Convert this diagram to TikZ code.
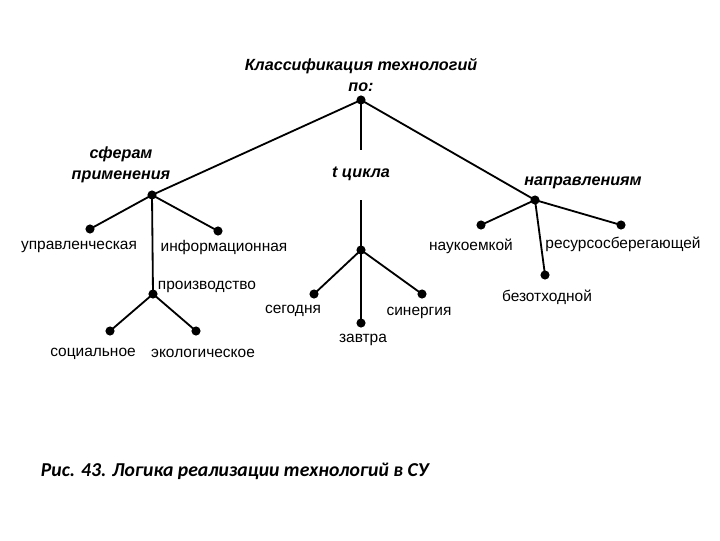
\documentclass[tikz,border=0pt]{standalone}
\usepackage{fontspec}
\setmainfont{Liberation Sans}
\newfontfamily\capfont{Carlito}
\usetikzlibrary{positioning}

\begin{document}
\begin{tikzpicture}[x=0.025cm,y=-0.025cm,line width=1.3pt,
  dot/.style={circle,fill,inner sep=0pt,minimum size=6.5pt},
  lbl/.style={font=\fontsize{11}{13}\selectfont,inner sep=0pt},
  head/.style={font=\fontsize{11.5}{15}\selectfont\bfseries\itshape,inner sep=0pt,align=center}]
\useasboundingbox (0,0) rectangle (720,540);
% title and root
\node[head] (title) at (361,75) {Классификация технологий\\по:};
\node[dot] (root) at (361,100) {};
% branches
\node[dot] (sfer) at (152,195) {};
\node[head] (sferlbl) at (121,165) {сферам\\применения};
\coordinate (ctop) at (361,150);
\node[head] (cikl) at (361,174) {t цикла};
\coordinate (cbot) at (361,200);
\node[dot] (cikldot) at (361,250) {};
\node[dot] (napr) at (535,200) {};
\node[head] (naprlbl) at (583,183) {направлениям};
\draw (root.center) -- (sfer.center);
\draw (root.center) -- (ctop);
\draw (root.center) -- (napr.center);
\draw (cbot) -- (cikldot.center);
% sphere of use
\node[dot] (upr) at (90,229) {};
\node[lbl] (uprlbl) at (79,247) {управленческая};
\node[dot] (inf) at (218,231) {};
\node[lbl] (inflbl) at (224,247) {информационная};
\node[dot] (proizv) at (153,294) {};
\node[lbl,anchor=west] (proizvlbl) at (157,287) {производство};
\draw (sfer.center) -- (upr.center);
\draw (sfer.center) -- (inf.center);
\draw (sfer.center) -- (proizv.center);
\node[dot] (soc) at (110,331) {};
\node[lbl] (soclbl) at (93,354) {социальное};
\node[dot] (eko) at (196,331) {};
\node[lbl] (ekolbl) at (203,353) {экологическое};
\draw (proizv.center) -- (soc.center);
\draw (proizv.center) -- (eko.center);
% cycle time
\node[dot] (seg) at (314,294) {};
\node[lbl] (seglbl) at (293,311) {сегодня};
\node[dot] (sin) at (422,294) {};
\node[lbl] (sinlbl) at (419,313) {синергия};
\node[dot] (zav) at (361,323) {};
\node[lbl] (zavlbl) at (363,340) {завтра};
\draw (cikldot.center) -- (seg.center);
\draw (cikldot.center) -- (sin.center);
\draw (cikldot.center) -- (zav.center);
% directions
\node[dot] (nauk) at (481,225) {};
\node[lbl] (nauklbl) at (471,246) {наукоемкой};
\node[dot] (res) at (621,225) {};
\node[lbl] (reslbl) at (623,244) {ресурсосберегающей};
\node[dot] (bez) at (545,275) {};
\node[lbl] (bezlbl) at (547,297) {безотходной};
\draw (napr.center) -- (nauk.center);
\draw (napr.center) -- (res.center);
\draw (napr.center) -- (bez.center);
% caption
\node[anchor=west,inner sep=0pt,font=\capfont\fontsize{14}{16}\selectfont\bfseries\itshape] (cap) at (40,471) {Рис. 43. Логика реализации технологий в СУ};
\end{tikzpicture}
\end{document}
